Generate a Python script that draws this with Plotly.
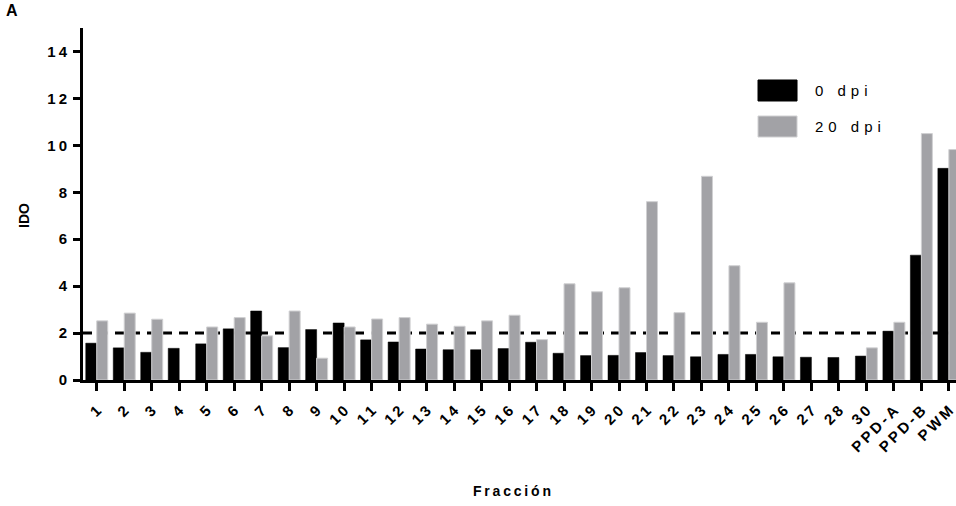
import plotly.graph_objects as go

def spaced(s, sp="\u2009"):
    return sp.join(list(s))

categories = [str(i) for i in range(1, 29)] + ["30", "PPD-A", "PPD-B", "PWM"]
dpi0 = [1.57, 1.37, 1.18, 1.35, 1.54, 2.18, 2.94, 1.38, 2.15, 2.43,
        1.71, 1.62, 1.32, 1.29, 1.29, 1.34, 1.61, 1.14, 1.04, 1.05,
        1.17, 1.04, 0.99, 1.09, 1.09, 0.99, 0.97, 0.96, 1.02, 2.08,
        5.32, 9.02]
dpi20 = [2.52, 2.85, 2.59, None, 2.26, 2.66, 1.88, 2.94, 0.93, 2.26,
         2.60, 2.66, 2.38, 2.29, 2.52, 2.76, 1.72, 4.10, 3.76, 3.93,
         7.60, 2.87, 8.68, 4.87, 2.46, 4.14, None, None, 1.37, 2.46,
         10.50, 9.82]
y_ticks = [0, 2, 4, 6, 8, 10, 12, 14]
threshold = 2

FONT = "Liberation Sans, Arial, sans-serif"
BLACK = "#000000"
GRAY = "#a2a2a6"
SPX = "\u2009"

fig = go.Figure()
fig.add_trace(go.Bar(x=list(range(len(categories))), y=dpi0, name="0 dpi",
                     marker=dict(color=BLACK, line=dict(color=BLACK, width=0.5)),
                     showlegend=False))
fig.add_trace(go.Bar(x=list(range(len(categories))), y=dpi20, name="20 dpi",
                     marker=dict(color=GRAY, line=dict(color="#d0d0d2", width=1)),
                     showlegend=False))

fig.add_shape(type="line", xref="paper", yref="y", x0=0, x1=1, y0=threshold, y1=threshold,
              line=dict(color=BLACK, width=3, dash="9px,7px"), layer="below")

# legend drawn manually (large swatches)
fig.add_shape(type="rect", xref="paper", yref="paper", x0=0.7732, x1=0.8179, y0=0.7926, y1=0.8523,
              fillcolor=BLACK, line=dict(color=BLACK, width=1))
fig.add_shape(type="rect", xref="paper", yref="paper", x0=0.7732, x1=0.8179, y0=0.6903, y1=0.75,
              fillcolor=GRAY, line=dict(color="#d0d0d2", width=1))
fig.add_annotation(xref="paper", yref="paper", x=0.8362, y=0.823, text=spaced("0 dpi", "\u2004"),
                   showarrow=False, xanchor="left", yanchor="middle",
                   font=dict(family=FONT, size=15, color=BLACK))
fig.add_annotation(xref="paper", yref="paper", x=0.8362, y=0.719, text=spaced("20 dpi", "\u2004"),
                   showarrow=False, xanchor="left", yanchor="middle",
                   font=dict(family=FONT, size=15, color=BLACK))

fig.add_annotation(xref="paper", yref="paper", x=-0.0813, y=1.051, text="<b>A</b>",
                   showarrow=False, xanchor="center", yanchor="middle",
                   font=dict(family=FONT, size=16, color=BLACK))
fig.add_annotation(xref="paper", yref="paper", x=-0.0676, y=0.469, text="<b>IDO</b>",
                   showarrow=False, textangle=-90, xanchor="center", yanchor="middle",
                   font=dict(family=FONT, size=14, color=BLACK))
fig.add_annotation(xref="paper", yref="paper", x=0.4914, y=-0.315, text="<b>" + spaced("Fracción") + "</b>",
                   showarrow=False, xanchor="center", yanchor="middle",
                   font=dict(family=FONT, size=14, color=BLACK))

fig.update_layout(
    width=956, height=506,
    margin=dict(l=83, r=0, t=28, b=126, pad=0),
    paper_bgcolor="white", plot_bgcolor="white",
    barmode="group", bargap=0.2, bargroupgap=0,
    font=dict(family=FONT, color=BLACK),
)
fig.update_xaxes(
    range=[-0.5, 31.26], tickmode="array", tickvals=list(range(len(categories))),
    ticktext=["<b>" + spaced(c, SPX) + "</b>" for c in categories],
    tickangle=-45, ticks="outside", ticklen=8, tickwidth=3, tickcolor=BLACK,
    ticklabelstandoff=5, ticklabeloverflow="allow",
    showline=True, linewidth=3, linecolor=BLACK, showgrid=False, zeroline=False,
    tickfont=dict(family=FONT, size=15, color=BLACK),
)
fig.update_yaxes(
    range=[0, 15], tickmode="array", tickvals=y_ticks,
    ticktext=["<b>" + spaced(str(v), "\u2009") + "</b>" for v in y_ticks],
    ticks="outside", ticklen=7, tickwidth=3, tickcolor=BLACK,
    ticklabelstandoff=3,
    showline=True, linewidth=3, linecolor=BLACK, showgrid=False, zeroline=False,
    tickfont=dict(family=FONT, size=15, color=BLACK),
)

fig.write_html("out.html")
